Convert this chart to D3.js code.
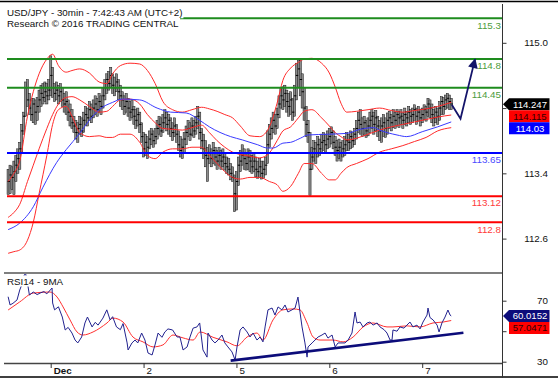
<!DOCTYPE html>
<html><head><meta charset="utf-8">
<script src="https://cdn.jsdelivr.net/npm/d3@7/dist/d3.min.js"></script>
<style>body{margin:0;background:#fff;} svg{display:block;font-family:"Liberation Sans",Arial,sans-serif;}</style>
</head><body><svg id="c" width="558" height="380"></svg>
<script>
// ---------- DATA ----------
const closes = [113.30,113.38,113.35,113.42,113.50,113.58,113.70,113.92,114.10,114.45,
114.30,114.20,114.12,114.25,114.15,114.22,114.30,114.38,114.33,114.40,
114.35,114.42,114.60,114.45,114.38,114.42,114.35,114.40,114.30,114.25,
114.28,114.15,114.10,114.02,113.98,113.90,113.95,114.00,113.92,114.05,
114.12,114.08,114.18,114.10,114.20,114.25,114.18,114.28,114.22,114.35,
114.45,114.55,114.50,114.60,114.48,114.45,114.52,114.40,114.35,114.30,
114.22,114.28,114.20,114.15,114.18,114.10,114.05,114.12,114.00,113.85,
113.70,113.78,113.72,113.82,113.88,113.80,113.85,113.95,114.00,113.92,
114.02,114.08,114.00,114.05,113.95,113.90,113.98,113.88,113.75,113.68,
113.72,113.82,113.90,113.95,113.88,113.98,113.92,114.02,114.10,113.90,
113.80,113.70,113.62,113.58,113.65,113.58,113.68,113.60,113.55,113.62,
113.55,113.60,113.52,113.48,113.45,113.40,113.35,113.15,113.30,113.50,
113.55,113.62,113.58,113.52,113.60,113.55,113.48,113.55,113.45,113.42,
113.48,113.40,113.45,113.50,113.75,113.88,113.95,114.05,113.98,114.12,
114.25,114.35,114.30,114.38,114.28,114.22,114.30,114.15,114.35,114.60,
114.68,114.55,114.40,114.20,114.00,113.90,113.45,113.60,113.70,113.65,
113.75,113.70,113.78,113.80,113.75,113.82,113.85,113.90,113.78,113.72,
113.68,113.72,113.65,113.70,113.75,113.80,113.78,113.85,113.80,113.88,
113.95,114.05,114.00,113.95,114.02,113.92,113.98,114.05,114.10,114.00,
114.08,113.98,113.92,113.98,114.02,113.95,114.05,114.08,114.02,114.10,
114.05,114.12,114.08,114.10,114.05,114.12,114.08,114.15,114.10,114.12,
114.18,114.10,114.15,114.08,114.12,114.18,114.15,114.25,114.20,114.12,
114.08,114.15,114.10,114.20,114.28,114.22,114.30,114.32,114.28,114.25];
const highs = [113.45,113.50,113.48,113.55,113.62,113.70,113.78,114.00,114.15,114.52,
114.55,114.38,114.30,114.32,114.30,114.33,114.42,114.48,114.50,114.52,
114.50,114.55,114.84,114.70,114.50,114.52,114.48,114.50,114.45,114.38,
114.40,114.30,114.25,114.18,114.10,114.05,114.02,114.10,114.08,114.15,
114.22,114.20,114.28,114.25,114.30,114.35,114.32,114.38,114.35,114.45,
114.55,114.62,114.65,114.70,114.62,114.58,114.62,114.55,114.48,114.40,
114.35,114.38,114.32,114.28,114.30,114.22,114.18,114.20,114.15,114.02,
113.90,113.88,113.85,113.92,113.95,113.92,113.95,114.05,114.10,114.08,
114.12,114.18,114.15,114.12,114.08,114.02,114.08,114.00,113.92,113.85,
113.82,113.90,113.98,114.05,114.02,114.08,114.05,114.10,114.22,114.15,
113.95,113.88,113.80,113.72,113.75,113.70,113.78,113.72,113.68,113.72,
113.68,113.70,113.65,113.60,113.58,113.52,113.48,113.38,113.42,113.60,
113.68,113.75,113.70,113.65,113.70,113.68,113.62,113.65,113.60,113.55,
113.58,113.55,113.55,113.60,113.92,114.00,114.08,114.15,114.12,114.20,
114.35,114.45,114.46,114.48,114.42,114.38,114.40,114.32,114.48,114.75,
114.79,114.78,114.62,114.45,114.22,114.05,113.90,113.72,113.80,113.78,
113.85,113.82,113.88,113.90,113.88,113.92,113.95,113.97,113.92,113.85,
113.80,113.82,113.78,113.80,113.85,113.90,113.88,113.92,113.90,113.95,
114.05,114.15,114.18,114.08,114.10,114.05,114.08,114.15,114.18,114.15,
114.17,114.10,114.05,114.08,114.12,114.08,114.14,114.16,114.12,114.18,
114.15,114.18,114.16,114.18,114.14,114.20,114.16,114.22,114.18,114.20,
114.24,114.20,114.22,114.18,114.20,114.24,114.22,114.32,114.30,114.25,
114.18,114.22,114.20,114.28,114.34,114.33,114.36,114.38,114.36,114.32];
const lows = [113.14,113.15,113.20,113.14,113.30,113.40,113.45,113.66,113.88,114.10,
114.22,114.12,114.05,114.02,114.00,114.05,114.15,114.22,114.25,114.28,
114.25,114.30,114.35,114.33,114.28,114.30,114.25,114.28,114.22,114.15,
114.12,114.05,113.98,113.95,113.90,113.82,113.78,113.88,113.85,113.90,
114.00,113.98,114.05,114.02,114.08,114.12,114.10,114.15,114.12,114.20,
114.30,114.38,114.42,114.45,114.38,114.35,114.40,114.30,114.22,114.18,
114.12,114.15,114.10,114.05,114.08,114.00,113.95,113.98,113.90,113.78,
113.60,113.62,113.58,113.70,113.75,113.72,113.76,113.82,113.88,113.85,
113.90,113.95,113.92,113.88,113.85,113.80,113.85,113.78,113.68,113.60,
113.58,113.65,113.75,113.85,113.80,113.86,113.84,113.88,113.95,113.82,
113.70,113.58,113.48,113.30,113.52,113.48,113.52,113.50,113.45,113.50,
113.45,113.48,113.44,113.40,113.38,113.32,113.30,112.93,112.95,113.25,
113.42,113.50,113.45,113.44,113.45,113.42,113.40,113.42,113.36,113.34,
113.35,113.33,113.34,113.38,113.52,113.72,113.82,113.90,113.88,113.95,
114.08,114.20,114.18,114.22,114.15,114.10,114.12,114.05,114.10,114.30,
114.45,114.35,114.20,114.05,113.85,113.78,113.13,113.45,113.55,113.52,
113.60,113.62,113.66,113.68,113.66,113.70,113.72,113.76,113.70,113.62,
113.55,113.58,113.55,113.60,113.62,113.68,113.68,113.70,113.72,113.75,
113.82,113.90,113.88,113.85,113.88,113.84,113.86,113.90,113.95,113.88,
113.92,113.85,113.80,113.78,113.85,113.84,113.88,113.95,113.92,113.96,
113.95,113.98,113.96,114.00,113.95,114.00,113.98,114.02,114.00,114.02,
114.05,114.00,114.04,113.98,114.02,114.06,114.04,114.10,114.08,114.02,
113.98,114.02,114.00,114.05,114.12,114.12,114.18,114.20,114.18,114.18];

// Bollinger bands (sampled at bar indices)
const bbT   = [0,3,6,10,13,16,20,23,26,30,33,37,42,47,51,54,58,63,68,72,76,80,85,90,95,100,104,108,112,116,120,125,130,135,139,142,146,150,153,157,162,166,169,172,175,180,186,192,198,204,210,216,222,229];
const bbUp  = [113.30,113.40,113.55,114.10,114.40,114.62,114.80,114.86,114.72,114.64,114.66,114.68,114.63,114.52,114.50,114.62,114.72,114.75,114.74,114.66,114.50,114.28,114.18,114.15,114.18,114.21,114.19,114.16,114.12,114.08,113.98,113.86,113.85,113.97,114.26,114.54,114.69,114.76,114.80,114.81,114.75,114.63,114.46,114.26,114.15,114.16,114.18,114.20,114.17,114.15,114.17,114.19,114.22,114.27];
const bbMid = [112.86,112.92,113.02,113.30,113.50,113.70,113.95,114.12,114.25,114.33,114.34,114.30,114.22,114.15,114.16,114.22,114.30,114.31,114.25,114.12,114.02,113.95,113.94,113.93,113.96,113.99,113.90,113.80,113.72,113.66,113.63,113.61,113.59,113.65,113.80,113.92,113.97,114.08,114.16,114.18,114.08,113.98,113.90,113.85,113.81,113.83,113.88,113.93,113.97,114.00,114.03,114.06,114.09,114.115];
const bbLo  = [112.42,112.44,112.46,112.58,112.80,113.15,113.62,114.00,114.18,114.22,114.10,113.90,113.85,113.86,113.84,113.84,113.88,113.88,113.78,113.62,113.58,113.66,113.70,113.70,113.72,113.72,113.62,113.52,113.42,113.35,113.33,113.35,113.35,113.30,113.26,113.18,113.24,113.40,113.52,113.52,113.40,113.32,113.32,113.40,113.47,113.52,113.58,113.66,113.70,113.74,113.79,113.84,113.92,113.96];
// Blue moving average
const maT = [0,6,13,18,25,30,37,42,47,54,59,68,77,84,92,99,104,115,121,129,134,137,142,146,151,155,166,175,182,189,192,201,206,214,222,229];
const maV = [112.71,112.79,112.99,113.23,113.53,113.69,113.89,114.05,114.18,114.27,114.31,114.30,114.20,114.15,114.14,114.05,113.97,113.85,113.81,113.75,113.71,113.71,113.77,113.78,113.83,113.87,113.88,113.89,113.94,113.96,113.93,113.87,113.85,113.91,113.97,114.03];

// RSI(14) and its 9-period MA
const rsiT = [0,1,2.5,4.6,6,7,8,9,10,11,13,15,16.5,18.5,20,22.7,23,24,26,28,29.5,31,33,34.6,36,38,39.7,41,43.4,45,46.5,49,51,52.7,54,56,58,59.4,61.5,62,64,65.6,67,69,70.7,72.3,74.4,75.9,77.5,79.5,81,82.6,85,87.3,88.8,90.4,92.5,94,95.6,97.6,99,100.7,102.8,103.3,105.4,106.9,108.5,110.5,112,113.6,115.7,117.3,118.3,119.9,121.4,123.5,125,126.6,128.6,130.2,131.7,132.8,134.3,136.4,137.9,139.5,141.5,143.1,144.6,146.7,148.3,149.8,150.9,151.9,153.4,154.5,155,157.1,158.6,160.2,162.2,163.8,165.3,167.4,169,170.5,172.6,174.1,175.7,177.7,179.3,180.3,181.9,183.4,185.5,187,188.6,190.7,192.2,194.3,195.8,197.4,198.4,198.9,201,202.5,204.6,206.1,207.7,209.2,211.3,212.9,214.4,216.5,217,218,219.6,221.7,222.7,224.2,225.8,227.3,228.4,229];
const rsiV = [72.6,67.2,68.3,70.5,77,80.3,86,88,81.6,73.7,75.7,74,75,76,74.5,78.3,68.5,64,66,59.3,50.8,52.5,48.8,44.2,42.3,46.2,55.4,59.3,52.8,55.8,54,58.6,64,57.4,59.5,52.8,51,55,42.3,37.7,42.3,44.2,42.3,48.8,44.2,35.7,34.4,41,48.8,46,49.5,51.5,50.8,46.2,46.2,37.7,39.7,46.2,52,52.8,55.4,37.7,33,48.8,44.2,42.3,44.2,47.5,42.3,39.7,36.4,31.1,39.7,50.8,52.8,49.5,46.2,48.8,44.2,46.2,43,52.8,64,65.2,60.6,65.9,64,67.2,62.6,64,65.2,72.4,62,52.8,42.3,33,39.7,42.3,44.2,46.2,47.5,48.8,45.5,47.5,39.7,42.3,42.3,42.3,44.2,48.8,62.6,55.4,56,52.8,55.4,56,54,55.4,52.8,51,48.8,44.2,44.2,50.8,50,52.8,52,54,56,52.8,54,51.5,56,60.6,65.2,59,57.4,54,49.5,55.4,59.3,63.9,60.6,60];
const rsiMaT = [0,6,13,21.6,25.3,28.4,32,35.6,38.7,43.9,51.1,54.2,59.4,64.5,69.7,74.9,80,85.2,90.4,95.6,99.2,105.9,113.1,118.3,123.5,128.6,131.7,136.9,142,147.2,150.8,154.5,157.6,161.2,164.8,167.9,173.1,178.3,183.5,188.6,195.8,198.9,206.1,212.9,219.6,224.8,229];
const rsiMaV = [63.9,69.2,75,75.7,72.4,65.9,57.4,49.5,47.5,49.5,55.4,58.6,56,46.2,43,39.7,41,47.5,45.6,44.2,49.5,46,43,40.4,46.2,48.8,44.2,57.4,64,64.6,64,55.4,46.2,44.2,44.2,44.2,43,46.2,52.8,55.4,52.8,52.8,53.5,52.8,55.4,56,57];

// Support / resistance levels
const levelValues = [115.3, 114.8, 114.45, 113.65, 113.12, 112.8];
const levelKinds  = ["res","res","res","pivot","sup","sup"];
const levelLabels = ["115.3","114.8","114.45","113.65","113.12","112.8"];

// Scenario arrow (bar index, price)
const arrowT = [229.3, 233.8, 241.3];
const arrowV = [114.24, 114.07, 114.80];
// RSI trend line (bar index, RSI)
const trendT = [115, 235.3];
const trendV = [30.7, 49.0];

// Last values
const lastPrice = 114.247, lastPriceLabel = "114.247";
const lastMid = 114.115, lastMidLabel = "114.115";
const lastMa = 114.03, lastMaLabel = "114.03";
const lastRsi = 60.0152, lastRsiLabel = "60.0152";
const lastRsiMa = 57.0471, lastRsiMaLabel = "57.0471";

// Axes (the 114.2 and 50 labels sit behind the value tags in the reference)
const dayTicks = [22, 70, 118, 166, 214];
const dayLabels = ["Dec", "2", "5", "6", "7"];
const priceTicks = [115.0, 114.2, 113.4, 112.6];
const priceTickLabels = ["115.0", "", "113.4", "112.6"];
const rsiTicks = [70, 50, 30];
const rsiTickLabels = ["70", "", "30"];

const titleLines = ["USD/JPY - 30min - 7:42:43 AM (UTC+2)", "Research \u00a9 2016 TRADING CENTRAL"];
const rsiTitle = "RSI14 - 9MA";

// ---------- CHART ----------
const svg = d3.select('#c');
const FS = 9.8;
svg.append('rect').attr('width',558).attr('height',380).attr('fill','#fff');

const x  = d3.scaleLinear().domain([22, 214]).range([50.7, 422.2]);
const yP = d3.scaleLinear().domain([115.0, 112.6]).range([42.8, 238.6]);
const yR = d3.scaleLinear().domain([70, 30]).range([300.7, 361.7]);

const defs = svg.append('defs');
defs.append('clipPath').attr('id','cm').append('rect').attr('x',4).attr('y',4).attr('width',498).attr('height',268);
defs.append('clipPath').attr('id','cr').append('rect').attr('x',4).attr('y',274).attr('width',498).attr('height',88);
defs.append('marker').attr('id','ah').attr('viewBox','0 0 10 10').attr('refX',9).attr('refY',5)
  .attr('markerWidth',6.5).attr('markerHeight',5.5).attr('markerUnits','strokeWidth').attr('orient','auto')
  .append('path').attr('d','M0,0 L10,5 L0,10 Z').attr('fill','#14146a');

const gM = svg.append('g').attr('clip-path','url(#cm)');
const idx = d3.range(closes.length);

// bars
gM.selectAll('rect.bar').data(idx).join('rect').attr('class','bar')
  .attr('x', i => x(i) - 1.1).attr('width', 2.2)
  .attr('y', i => yP(highs[i])).attr('height', i => Math.max(1, yP(lows[i]) - yP(highs[i])))
  .attr('fill', '#8c8c8c').attr('stroke', '#151515').attr('stroke-width', 0.5);
gM.selectAll('line.cl').data(idx).join('line').attr('class','cl')
  .attr('x1', i => x(i) - 0.6).attr('x2', i => x(i) + 1.8)
  .attr('y1', i => yP(closes[i])).attr('y2', i => yP(closes[i]))
  .attr('stroke', '#000').attr('stroke-width', 1);

const lineP = (T, V) => d3.line().x((d,k) => x(T[k])).y(d => yP(d)).curve(d3.curveMonotoneX)(V);
[bbUp, bbMid, bbLo].forEach(V => gM.append('path').attr('d', lineP(bbT, V))
  .attr('fill','none').attr('stroke','#ff2a2a').attr('stroke-width',1));
gM.append('path').attr('d', lineP(maT, maV)).attr('fill','none').attr('stroke','#3a3aff').attr('stroke-width',1);

// levels
const lvColor = {res:'#1e8c1e', pivot:'#0000ff', sup:'#ff0000'};
const lvText  = {res:'#4c9c3c', pivot:'#4a4aff', sup:'#ff3a3a'};
levelValues.forEach((v,k) => {
  svg.append('line').attr('x1',7).attr('x2',502).attr('y1',yP(v)).attr('y2',yP(v))
    .attr('stroke', lvColor[levelKinds[k]]).attr('stroke-width',2);
});

// arrow
svg.append('path').attr('d', d3.line().x((d,k)=>x(arrowT[k])).y(d=>yP(d))(arrowV))
  .attr('fill','none').attr('stroke','#14146a').attr('stroke-width',1.8).attr('marker-end','url(#ah)');

levelValues.forEach((v,k) => {
  svg.append('text').attr('x',501).attr('y',yP(v)+10.3).attr('text-anchor','end')
    .attr('font-size',FS).attr('fill', lvText[levelKinds[k]]).text(levelLabels[k]);
});

// header
titleLines.forEach((t,k) => {
  const tx = svg.append('text').attr('x',7).attr('y',16.3 + k*10.7).attr('font-size',FS).attr('fill','#111').text(t);
  const bb = tx.node().getBBox();
  svg.insert('rect', () => tx.node()).attr('x',bb.x-1).attr('y',bb.y).attr('width',bb.width+2).attr('height',bb.height).attr('fill','#fff');
});

// RSI panel
const gR = svg.append('g').attr('clip-path','url(#cr)');
const lineR = (T, V, c) => d3.line().x((d,k)=>x(T[k])).y(d=>yR(d)).curve(c)(V);
gR.append('path').attr('d', lineR(rsiMaT, rsiMaV, d3.curveMonotoneX)).attr('fill','none').attr('stroke','#ff3030').attr('stroke-width',1);
gR.append('path').attr('d', lineR(rsiT, rsiV, d3.curveLinear)).attr('fill','none').attr('stroke','#22228f').attr('stroke-width',1);
gR.append('path').attr('d', lineR(trendT, trendV, d3.curveLinear)).attr('fill','none').attr('stroke','#0c0c7a').attr('stroke-width',2.6);
{
  const tx = svg.append('text').attr('x',7).attr('y',284.5).attr('font-size',FS).attr('fill','#111').text(rsiTitle);
  const bb = tx.node().getBBox();
  svg.insert('rect', () => tx.node()).attr('x',bb.x-1).attr('y',bb.y).attr('width',bb.width+2).attr('height',bb.height).attr('fill','#fff');
}

// frame lines
svg.append('line').attr('x1',0).attr('x2',558).attr('y1',1.5).attr('y2',1.5).attr('stroke','#000').attr('stroke-width',1.6);
svg.append('line').attr('x1',0).attr('x2',558).attr('y1',377).attr('y2',377).attr('stroke','#000').attr('stroke-width',1.6);
svg.append('line').attr('x1',4).attr('x2',502).attr('y1',273).attr('y2',273).attr('stroke','#555').attr('stroke-width',1.5);
svg.append('line').attr('x1',502.5).attr('x2',502.5).attr('y1',4).attr('y2',378).attr('stroke','#333').attr('stroke-width',1);

// price axis
const axP = svg.append('g').attr('transform','translate(502.5,0)')
  .call(d3.axisRight(yP).tickValues(priceTicks).tickSize(4).tickFormat((d,i)=>priceTickLabels[i]));
axP.select('.domain').remove();
axP.selectAll('line').attr('stroke','#333');
axP.selectAll('text').filter(function(){ return this.textContent === ''; }).remove();
axP.selectAll('text').attr('x',45.5).attr('text-anchor','end').attr('font-size',FS).attr('font-family','"Liberation Sans",Arial,sans-serif').attr('fill','#111');

// RSI axis
const axR = svg.append('g').attr('transform','translate(502.5,0)')
  .call(d3.axisRight(yR).tickValues(rsiTicks).tickSize(4).tickFormat((d,i)=>rsiTickLabels[i]));
axR.select('.domain').remove();
axR.selectAll('line').attr('stroke','#333');
axR.selectAll('text').filter(function(){ return this.textContent === ''; }).remove();
axR.selectAll('text').attr('x',45.5).attr('text-anchor','end').attr('font-size',FS).attr('font-family','"Liberation Sans",Arial,sans-serif').attr('fill','#111');

// time axis
const axT = svg.append('g').attr('transform','translate(0,363)')
  .call(d3.axisBottom(x).tickValues(dayTicks).tickSize(5).tickFormat((d,i)=>dayLabels[i]));
axT.select('.domain').attr('d','M4,0.5H502').attr('stroke','#444').attr('stroke-width',1.5);
axT.selectAll('line').attr('stroke','#333');
axT.selectAll('text').attr('x',2.5).attr('y',4).attr('text-anchor','start').attr('font-size',FS)
  .attr('font-family','"Liberation Sans",Arial,sans-serif').attr('fill','#111')
  .attr('font-weight',(d,i)=> i===0 ? 'bold' : 'normal');

// value tags
const TAG_H = 12;
function tag(yc, label, fill, tcol, arrow) {
  const h = TAG_H, x0 = 509, x1 = 549.5;
  const d = arrow
    ? `M503,${yc} L${x0},${yc-h/2} L${x1},${yc-h/2} L${x1},${yc+h/2} L${x0},${yc+h/2} Z`
    : `M${x0},${yc-h/2} L${x1},${yc-h/2} L${x1},${yc+h/2} L${x0},${yc+h/2} Z`;
  svg.append('path').attr('d', d).attr('fill', fill);
  svg.append('text').attr('x', 530).attr('y', yc + 3.5).attr('text-anchor','middle')
    .attr('font-size', 9.6).attr('fill', tcol).text(label);
}
let y1 = yP(lastPrice);
let y2 = Math.max(yP(lastMid), y1 + TAG_H);
let y3 = Math.max(yP(lastMa), y2 + TAG_H);
tag(y1, lastPriceLabel, '#000', '#fff', true);
tag(y2, lastMidLabel, '#ff0000', '#300', false);
tag(y3, lastMaLabel, '#0000ff', '#fff', false);
let r1 = yR(lastRsi);
let r2 = Math.max(yR(lastRsiMa), r1 + TAG_H);
tag(r1, lastRsiLabel, '#0c0c7a', '#fff', true);
tag(r2, lastRsiMaLabel, '#ff0000', '#300', false);
</script>
</body></html>
